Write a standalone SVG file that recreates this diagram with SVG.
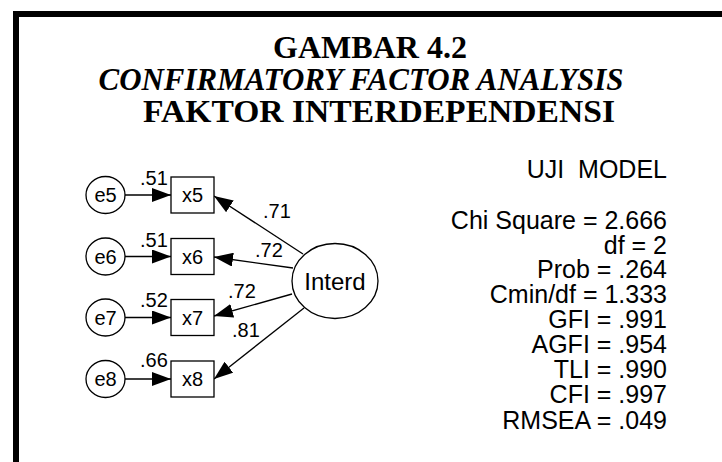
<svg xmlns="http://www.w3.org/2000/svg" width="722" height="462" viewBox="0 0 722 462">
<defs>
<marker id="ah" markerUnits="userSpaceOnUse" markerWidth="19" markerHeight="14" refX="19" refY="7" orient="auto">
<path d="M0,0 L19,7 L0,14 z" fill="#000"/>
</marker>
<style>
.t{font-family:"Liberation Serif","Times New Roman",serif;font-weight:bold;font-size:32px;fill:#000}
.s{font-family:"Liberation Sans",Arial,sans-serif;fill:#000}
.fit{font-size:25px;text-anchor:end}
.lbl{font-size:20px}
.nd{font-size:20px;text-anchor:middle}
.sh{fill:#fff;stroke:#000;stroke-width:1.3}
.cn{stroke:#000;stroke-width:1.3;fill:none;marker-end:url(#ah)}
</style>
</defs>
<rect width="722" height="462" fill="#fff"/>
<g id="frame">
<rect x="13" y="11" width="709" height="6" fill="#000"/>
<rect x="13" y="11" width="6" height="451" fill="#000"/>
</g>
<g id="title">
<text class="t" x="370" y="58" text-anchor="middle" textLength="194" lengthAdjust="spacingAndGlyphs">GAMBAR 4.2</text>
<text class="t" x="361" y="90" text-anchor="middle" font-style="italic" textLength="525" lengthAdjust="spacingAndGlyphs">CONFIRMATORY FACTOR ANALYSIS</text>
<text class="t" x="379" y="122" text-anchor="middle" textLength="472" lengthAdjust="spacingAndGlyphs">FAKTOR INTERDEPENDENSI</text>
</g>
<g id="connectors">
<line class="cn" x1="125" y1="195" x2="171" y2="195"/>
<line class="cn" x1="125" y1="256.5" x2="171" y2="256.5"/>
<line class="cn" x1="125" y1="317.5" x2="171" y2="317.5"/>
<line class="cn" x1="125" y1="379" x2="171" y2="379"/>
<line class="cn" x1="303" y1="254" x2="214" y2="196"/>
<line class="cn" x1="293" y1="268" x2="214" y2="257"/>
<line class="cn" x1="292" y1="294" x2="214" y2="316"/>
<line class="cn" x1="304" y1="308" x2="214" y2="379"/>
<text class="s lbl" x="140" y="185">.51</text>
<text class="s lbl" x="140" y="247">.51</text>
<text class="s lbl" x="140" y="307">.52</text>
<text class="s lbl" x="140" y="367">.66</text>
<text class="s lbl" x="263" y="218">.71</text>
<text class="s lbl" x="255" y="257">.72</text>
<text class="s lbl" x="228" y="298">.72</text>
<text class="s lbl" x="232" y="337">.81</text>
</g>
<g id="e5"><ellipse class="sh" cx="105.5" cy="195" rx="19.5" ry="18.5"/><text class="s nd" x="105.5" y="202">e5</text></g>
<g id="e6"><ellipse class="sh" cx="105.5" cy="256.5" rx="19.5" ry="18.5"/><text class="s nd" x="105.5" y="263.5">e6</text></g>
<g id="e7"><ellipse class="sh" cx="105.5" cy="317.5" rx="19.5" ry="18.5"/><text class="s nd" x="105.5" y="324.5">e7</text></g>
<g id="e8"><ellipse class="sh" cx="105.5" cy="379" rx="19.5" ry="18.5"/><text class="s nd" x="105.5" y="386">e8</text></g>
<g id="x5"><rect class="sh" x="171" y="177" width="43" height="36"/><text class="s nd" x="192.5" y="202">x5</text></g>
<g id="x6"><rect class="sh" x="171" y="238.5" width="43" height="36"/><text class="s nd" x="192.5" y="263.5">x6</text></g>
<g id="x7"><rect class="sh" x="171" y="299.5" width="43" height="36"/><text class="s nd" x="192.5" y="324.5">x7</text></g>
<g id="x8"><rect class="sh" x="171" y="361" width="43" height="36"/><text class="s nd" x="192.5" y="386">x8</text></g>
<g id="Interd"><ellipse class="sh" cx="335" cy="281" rx="43" ry="37.5"/><text class="s" x="335" y="290" font-size="24" text-anchor="middle">Interd</text></g>
<g id="fit">
<text class="s fit" x="667" y="178" word-spacing="7">UJI MODEL</text>
<text class="s fit" x="667" y="229">Chi Square = 2.666</text>
<text class="s fit" x="667" y="254">df = 2</text>
<text class="s fit" x="667" y="278">Prob = .264</text>
<text class="s fit" x="667" y="303">Cmin/df = 1.333</text>
<text class="s fit" x="667" y="328">GFI = .991</text>
<text class="s fit" x="667" y="353">AGFI = .954</text>
<text class="s fit" x="667" y="378">TLI = .990</text>
<text class="s fit" x="667" y="403">CFI = .997</text>
<text class="s fit" x="667" y="429">RMSEA = .049</text>
</g>
</svg>
